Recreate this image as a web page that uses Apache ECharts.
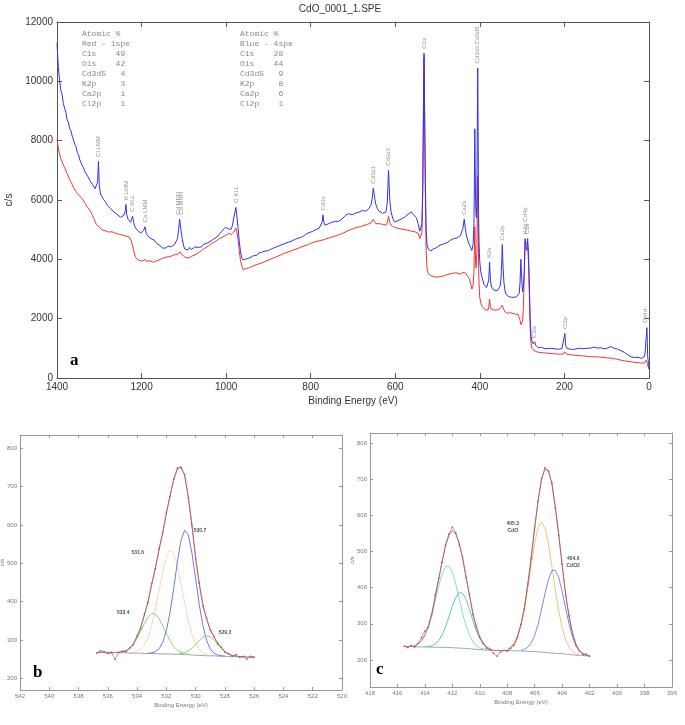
<!DOCTYPE html>
<html><head><meta charset="utf-8">
<script src="https://cdn.jsdelivr.net/npm/echarts@6/dist/echarts.min.js"></script>
<style>html,body{margin:0;padding:0;background:#fff}#c{width:685px;height:725px}</style>
</head><body><div id="c"></div>
<script>
// ---------- Panel a: survey spectra [binding energy, counts/s] ----------
const surveyBlue = [[1400,11300],[1397,10500],[1394,10050],[1391,9700],[1388,9550],[1385,9250],[1382,9100],[1379,8950],[1376,8700],[1373,8620],[1370,8400],[1367,8330],[1364,8150],[1361,8020],[1358,7880],[1355,7800],[1352,7600],[1349,7520],[1346,7350],[1343,7300],[1340,7150],[1337,7080],[1334,6950],[1331,6900],[1328,6820],[1325,6780],[1322,6650],[1319,6600],[1316,6520],[1313,6480],[1310,6380],[1307,6350],[1304,6600],[1302,7300],[1300,6500],[1297,6200],[1294,6150],[1290,6020],[1286,5950],[1282,5850],[1278,5800],[1274,5720],[1270,5680],[1266,5600],[1262,5620],[1258,5520],[1254,5500],[1250,5420],[1246,5460],[1242,5480],[1239,5600],[1237,5850],[1235,5500],[1232,5350],[1229,5300],[1226,5250],[1223,5380],[1221,5450],[1219,5250],[1216,5100],[1213,5050],[1210,4980],[1206,4950],[1202,4880],[1198,4920],[1195,4980],[1192,5100],[1189,4880],[1186,4800],[1182,4750],[1178,4700],[1174,4720],[1170,4650],[1166,4560],[1162,4580],[1158,4480],[1154,4420],[1150,4380],[1146,4330],[1142,4380],[1138,4450],[1134,4500],[1130,4420],[1126,4480],[1122,4500],[1118,4560],[1115,4700],[1112,5050],[1110,5350],[1107,5000],[1104,4700],[1101,4480],[1098,4350],[1094,4300],[1090,4320],[1086,4400],[1082,4330],[1078,4360],[1074,4420],[1070,4380],[1066,4400],[1062,4460],[1058,4420],[1054,4500],[1050,4480],[1046,4540],[1042,4560],[1038,4600],[1034,4620],[1030,4680],[1026,4700],[1022,4750],[1018,4800],[1014,4880],[1010,4950],[1006,5000],[1002,5080],[998,5100],[994,5020],[991,4980],[988,5020],[985,5150],[982,5400],[979,5600],[977,5750],[975,5500],[972,5100],[969,4600],[966,4250],[963,4050],[960,3980],[956,4000],[952,4020],[948,4060],[944,4050],[940,4100],[936,4120],[932,4150],[928,4130],[924,4200],[920,4180],[916,4240],[912,4260],[908,4280],[904,4300],[900,4290],[896,4340],[892,4360],[888,4380],[884,4400],[880,4420],[876,4450],[872,4460],[868,4490],[864,4500],[860,4540],[856,4550],[852,4580],[848,4600],[844,4620],[840,4660],[836,4680],[832,4700],[828,4720],[824,4740],[820,4760],[816,4800],[812,4840],[808,4860],[804,4900],[800,4920],[796,4940],[792,4960],[788,5000],[784,5020],[780,5050],[776,5100],[773,5250],[771,5500],[769,5250],[766,5150],[762,5150],[758,5200],[754,5220],[750,5250],[746,5240],[742,5280],[738,5300],[734,5280],[730,5320],[726,5360],[722,5420],[718,5480],[714,5500],[710,5540],[706,5560],[702,5500],[698,5540],[694,5560],[690,5600],[686,5590],[682,5620],[678,5650],[674,5600],[670,5620],[666,5660],[662,5720],[658,5820],[655,6000],[652,6400],[649,6100],[646,5850],[642,5700],[638,5620],[634,5580],[630,5550],[626,5540],[622,5600],[619,5900],[616,7000],[613,6000],[610,5600],[606,5380],[602,5260],[598,5240],[594,5300],[590,5340],[586,5360],[582,5400],[578,5420],[574,5460],[570,5520],[566,5580],[562,5600],[558,5520],[554,5480],[550,5400],[546,5200],[542,4950],[539,4900],[537,5200],[535,6500],[533,9800],[532,10950],[531,9600],[529,6800],[527,5000],[525,4500],[522,4350],[519,4320],[516,4280],[513,4320],[510,4350],[506,4380],[502,4400],[498,4430],[494,4480],[490,4500],[486,4520],[482,4550],[478,4560],[474,4600],[470,4640],[466,4650],[462,4700],[458,4680],[454,4720],[450,4750],[446,4800],[443,4850],[440,5050],[437,5350],[434,5000],[431,4750],[428,4620],[425,4500],[422,4400],[419,4300],[416,4500],[414,5200],[413,6500],[412,8400],[411,7000],[410,5900],[409,5500],[408,5400],[407,6000],[406,8500],[405,10450],[404,8000],[403,5500],[402,4600],[401,4200],[400,3900],[398,3600],[396,3450],[393,3300],[390,3150],[387,3100],[384,3050],[381,3100],[379,3300],[377,3900],[375,3300],[373,3100],[370,3000],[367,2980],[364,2950],[361,2960],[358,2950],[355,3000],[352,3100],[350,3350],[348,4000],[347,4500],[345,3700],[343,3200],[340,2900],[337,2800],[334,2760],[331,2740],[328,2760],[325,2720],[322,2700],[319,2720],[316,2700],[313,2740],[310,2760],[307,2850],[305,3200],[303,4000],[301,3300],[299,2900],[297,3100],[295,3600],[293,4700],[291,4400],[289,4300],[287,4700],[285,4200],[283,3200],[281,2000],[279,1400],[277,1250],[274,1150],[272,1180],[270,1220],[268,1100],[265,1050],[262,1020],[258,1000],[254,1030],[250,1000],[246,990],[242,1010],[238,990],[234,980],[230,1000],[226,1010],[222,980],[218,960],[214,970],[210,980],[206,990],[203,1050],[201,1350],[199,1500],[197,1100],[194,1000],[190,960],[186,970],[182,980],[178,960],[174,1000],[170,990],[166,980],[162,1000],[158,1010],[154,990],[150,1020],[146,1000],[142,990],[138,1010],[134,1000],[130,1040],[126,1060],[122,1010],[118,1000],[114,1020],[110,1000],[106,980],[102,990],[98,1010],[94,1050],[90,1060],[86,1030],[82,1000],[78,990],[74,970],[70,950],[66,920],[62,890],[58,860],[54,820],[50,780],[46,740],[42,710],[38,700],[34,690],[30,680],[26,700],[22,690],[18,660],[14,680],[11,720],[9,900],[7,1300],[5,1700],[4,1200],[3,700],[2,600],[1,450],[0,300]];

const surveyRed = [[1400,8050],[1397,7750],[1394,7550],[1391,7400],[1388,7300],[1385,7180],[1382,7100],[1379,6980],[1376,6900],[1373,6780],[1370,6720],[1367,6600],[1364,6520],[1361,6430],[1358,6380],[1355,6290],[1352,6220],[1349,6180],[1346,6120],[1343,6100],[1340,6040],[1337,5980],[1334,5900],[1331,5850],[1328,5760],[1325,5720],[1322,5650],[1319,5560],[1316,5480],[1313,5380],[1310,5280],[1307,5180],[1304,5120],[1301,5100],[1298,5040],[1294,5000],[1290,4980],[1286,4960],[1282,4950],[1278,4920],[1274,4900],[1270,4930],[1266,4900],[1262,4880],[1258,4870],[1254,4850],[1250,4830],[1246,4820],[1242,4800],[1238,4790],[1234,4780],[1230,4760],[1227,4720],[1224,4620],[1221,4450],[1218,4250],[1215,4100],[1212,4020],[1209,3990],[1206,3970],[1202,3980],[1198,3940],[1194,3960],[1191,4000],[1188,3930],[1184,3900],[1180,3950],[1176,3920],[1172,3900],[1168,3930],[1164,3950],[1160,3980],[1156,4000],[1152,4030],[1148,4050],[1144,4040],[1140,4080],[1136,4100],[1132,4090],[1128,4120],[1124,4150],[1120,4130],[1116,4160],[1112,4200],[1109,4250],[1106,4180],[1102,4120],[1098,4080],[1094,4050],[1090,4040],[1086,4060],[1082,4100],[1078,4130],[1074,4150],[1070,4200],[1066,4220],[1062,4260],[1058,4300],[1054,4340],[1050,4380],[1046,4400],[1042,4450],[1038,4480],[1034,4540],[1030,4570],[1026,4600],[1022,4640],[1018,4680],[1014,4700],[1010,4740],[1006,4780],[1002,4800],[998,4850],[994,4870],[991,4880],[988,4840],[985,4880],[982,4920],[979,4980],[977,5050],[975,4950],[972,4700],[969,4300],[966,3950],[963,3780],[960,3660],[956,3670],[952,3690],[948,3700],[944,3720],[940,3740],[936,3780],[932,3800],[928,3820],[924,3850],[920,3860],[916,3880],[912,3900],[908,3920],[904,3950],[900,3980],[896,4000],[892,4020],[888,4050],[884,4070],[880,4090],[876,4120],[872,4140],[868,4160],[864,4200],[860,4210],[856,4230],[852,4250],[848,4280],[844,4300],[840,4320],[836,4340],[832,4360],[828,4400],[824,4410],[820,4420],[816,4450],[812,4470],[808,4480],[804,4500],[800,4540],[796,4560],[792,4580],[788,4590],[784,4610],[780,4620],[776,4640],[772,4700],[769,4660],[766,4680],[762,4700],[758,4710],[754,4730],[750,4750],[746,4770],[742,4790],[738,4800],[734,4830],[730,4850],[726,4880],[722,4890],[718,4920],[714,4950],[710,4970],[706,5000],[702,5020],[698,5040],[694,5050],[690,5080],[686,5090],[682,5100],[678,5120],[674,5140],[670,5160],[666,5180],[662,5190],[658,5220],[655,5260],[652,5350],[649,5280],[646,5200],[642,5220],[638,5200],[634,5190],[630,5180],[626,5160],[622,5150],[619,5250],[616,5450],[613,5250],[610,5150],[606,5100],[602,5080],[598,5060],[594,5050],[590,5030],[586,5020],[582,5000],[578,5000],[574,4990],[570,4980],[566,4960],[562,4950],[558,4940],[554,4930],[550,4920],[546,4880],[542,4700],[539,4650],[537,4900],[535,6300],[533,9600],[532,10800],[531,9400],[529,6300],[527,4300],[525,3700],[522,3520],[519,3480],[516,3450],[513,3430],[510,3420],[506,3410],[502,3400],[498,3400],[494,3410],[490,3420],[486,3440],[482,3460],[478,3480],[474,3500],[470,3510],[466,3530],[462,3540],[458,3550],[454,3540],[450,3520],[446,3500],[443,3520],[440,3560],[437,3600],[434,3540],[431,3480],[428,3420],[425,3350],[422,3200],[419,3000],[416,3100],[414,3600],[413,4300],[412,5100],[411,4500],[410,3900],[409,3700],[408,3700],[407,4200],[406,5800],[405,6800],[404,5500],[403,3800],[402,3200],[401,2900],[400,2700],[398,2550],[396,2450],[393,2380],[390,2330],[387,2300],[384,2280],[381,2290],[379,2400],[377,2650],[375,2400],[373,2320],[370,2300],[367,2290],[364,2280],[361,2290],[358,2300],[355,2310],[352,2330],[350,2380],[348,2450],[347,2500],[345,2380],[343,2300],[340,2220],[337,2200],[334,2180],[331,2190],[328,2200],[325,2190],[322,2180],[319,2170],[316,2150],[313,2160],[310,2150],[307,2100],[305,1950],[303,1800],[301,1750],[299,1900],[297,2400],[295,3500],[293,4600],[291,4650],[289,4600],[287,4500],[285,3900],[283,2800],[281,1700],[279,1150],[277,1000],[274,950],[272,930],[270,920],[268,900],[265,880],[262,870],[258,860],[254,850],[250,850],[246,840],[242,840],[238,830],[234,830],[230,825],[226,820],[222,815],[218,810],[214,805],[210,800],[206,800],[203,810],[201,850],[199,880],[197,820],[194,800],[190,790],[186,790],[182,780],[178,770],[174,770],[170,760],[166,760],[162,750],[158,750],[154,740],[150,740],[146,730],[142,730],[138,720],[134,720],[130,715],[126,720],[122,710],[118,700],[114,700],[110,690],[106,690],[102,680],[98,675],[94,680],[90,670],[86,660],[82,650],[78,640],[74,630],[70,620],[66,600],[62,590],[58,580],[54,570],[50,560],[46,550],[42,545],[38,540],[34,530],[30,520],[26,520],[22,510],[18,500],[14,505],[11,510],[9,550],[7,600],[5,650],[4,500],[3,420],[2,380],[1,340],[0,300]];

const peakLabelE = [1302,1237,1221,1192,1113,1107,977,771,652,616,532,405,437,377,347,293,287,270,199,8];
const peakLabelV = [7350,5900,5500,5150,5400,5400,5800,5550,6450,7050,11000,10500,5400,3950,4550,4750,4750,1250,1550,1750];
const peakLabelText = ['Cl LMM','K LMM','C KLL','Ca LMM','Cd MNN','Cd MNN','O KLL','Cd3s','Cd3p1','Cd3p3','O1s','Cd3d3 Cd3d5','Ca2s','K2s','Ca2p','K2p Cd4p','C1s','Cl2s','Cl2p','Cd4d'];

const atomicRed = ['Atomic %','Red - 1spe','C1s    49','O1s    42','Cd3d5   4','K2p     3','Ca2p    1','Cl2p    1'];
const atomicBlue = ['Atomic %','Blue - 4spe','C1s    28','O1s    44','Cd3d5   9','K2p     8','Ca2p    6','Cl2p    1'];

// ---------- Panel b: O1s ----------
const bEnergy = [536.75,536.5,536.25,536,535.75,535.5,535.25,535,534.75,534.5,534.25,534,533.75,533.5,533.25,533,532.75,532.5,532.25,532,531.75,531.5,531.25,531,530.75,530.5,530.25,530,529.75,529.5,529.25,529,528.75,528.5,528.25,528,527.75,527.5,527.25,527,526.75,526.5,526.25,526];
const bRaw = [266,272,270,265,268,250,268,271,270,280,288,312,330,368,398,447,486,538,578,632,674,719,748,749,731,670,600,512,448,388,357,325,310,290,282,268,265,258,262,255,258,250,258,255];
const bFit = [268,268,267,267,267,268,268,270,273,278,291,309,334,365,402,445,489,534,581,629,677,716,745,752,728,674,597,516,445,392,354,328,308,293,280,270,263,260,258,257,256,256,255,255];
const bBg = [268,268,268,268,267,267,267,267,267,266,266,266,266,265,265,265,265,264,264,264,264,263,263,263,262,262,261,261,260,260,259,259,259,258,258,258,257,257,257,257,256,256,256,256];
const bGreen1 = [[535,270],[534.75,273],[534.5,278],[534.25,289],[534,304],[533.75,323],[533.5,343],[533.25,360],[533,369],[532.75,368],[532.5,356],[532.25,337],[532,317],[531.75,299],[531.5,283],[531.25,274],[531,268],[530.75,264],[530.5,263]];
const bOrange = [[534.5,266],[534.25,268],[534,271],[533.75,277],[533.5,287],[533.25,307],[533,339],[532.75,381],[532.5,429],[532.25,478],[532,516],[531.75,534],[531.5,525],[531.25,494],[531,448],[530.75,397],[530.5,351],[530.25,315],[530,290],[529.75,275],[529.5,267],[529.25,262],[529,260]];
const bBlue = [[533.25,265],[533,267],[532.75,270],[532.5,277],[532.25,294],[532,324],[531.75,372],[531.5,434],[531.25,503],[531,560],[530.75,586],[530.5,574],[530.25,526],[530,460],[529.75,392],[529.5,337],[529.25,299],[529,277],[528.75,266],[528.5,261],[528.25,259],[528,258]];
const bGreen2 = [[531.25,263],[531,265],[530.75,267],[530.5,272],[530.25,278],[530,288],[529.75,298],[529.5,308],[529.25,311],[529,309],[528.75,301],[528.5,290],[528.25,279],[528,270],[527.75,263],[527.5,260],[527.25,258],[527,257]];
const bLabelE = [534.95,533.95,529.7,528.0];
const bLabelV = [371,527,584,320];
const bLabelText = ['533.4','531.6','530.7','529.3'];

// ---------- Panel c: Cd3d ----------
const cEnergy = [415.5,415.25,415,414.75,414.5,414.25,414,413.75,413.5,413.25,413,412.75,412.5,412.25,412,411.75,411.5,411.25,411,410.75,410.5,410.25,410,409.75,409.5,409.25,409,408.75,408.5,408.25,408,407.75,407.5,407.25,407,406.75,406.5,406.25,406,405.75,405.5,405.25,405,404.75,404.5,404.25,404,403.75,403.5,403.25,403,402.75,402.5,402.25,402];
const cRaw = [238,234,240,236,246,262,280,290,325,380,425,470,518,548,568,552,520,484,428,380,325,292,262,245,232,228,218,210,222,226,224,232,240,262,298,340,410,482,565,640,702,732,722,690,620,545,465,380,322,270,240,225,214,216,210];
const cFit = [237,237,237,238,244,253,269,294,328,372,422,472,515,545,558,549,523,480,430,377,329,290,263,246,236,230,226,226,226,226,226,236,245,266,299,347,411,487,569,643,700,728,724,687,624,546,461,383,320,275,244,226,218,213,211];
const cBg = [237,237,237,236,236,236,236,236,235,235,235,235,234,234,234,233,233,232,232,231,230,229,229,228,227,227,226,226,226,226,226,226,225,225,225,224,224,223,223,222,222,221,220,219,218,218,217,216,215,214,213,212,212,211,211];
const cTeal1 = [[415,237],[414.75,238],[414.5,244],[414.25,253],[414,269],[413.75,292],[413.5,324],[413.25,363],[413,404],[412.75,438],[412.5,458],[412.25,460],[412,443],[411.75,409],[411.5,369],[411.25,328],[411,294],[410.75,268],[410.5,250],[410.25,239],[410,233],[409.5,228]];
const cTeal2 = [[414,236],[413.5,239],[413.25,244],[413,253],[412.75,269],[412.5,291],[412.25,319],[412,349],[411.75,373],[411.5,387],[411.25,384],[411,368],[410.75,340],[410.5,309],[410.25,280],[410,259],[409.75,244],[409.5,235],[409.25,230],[409,226]];
const cOrange = [[408,226],[407.75,236],[407.5,245],[407.25,265],[407,297],[406.75,342],[406.5,400],[406.25,463],[406,524],[405.75,566],[405.5,582],[405.25,565],[405,521],[404.75,459],[404.5,394],[404.25,336],[404,289],[403.75,256],[403.5,235],[403.25,224],[403,217],[402.75,213],[402.5,212]];
const cBlue = [[407,226],[406.75,229],[406.5,235],[406.25,247],[406,268],[405.75,299],[405.5,340],[405.25,384],[405,423],[404.75,447],[404.5,448],[404.25,428],[404,389],[403.75,343],[403.5,300],[403.25,265],[403,240],[402.75,225],[402.5,218],[402.25,213],[402,211]];
const cLabelE = [407.6,403.2];
const cLabelV = [568,472];
const cLabelText = ['405.3\nCdO','404.6\nCdO2'];

const smallTicks = [200,300,400,500,600,700,800];

// ---------- build ----------
const zip = (xs, ys) => xs.map((x, i) => [x, ys[i]]);
const FONT = 'Liberation Sans';
const plain = v => String(v);

function mkX(g, min, max, interval, top, o) {
  return {gridIndex: g, type: 'value', min, max, interval, inverse: true, position: top ? 'top' : 'bottom',
    axisLine: {show: true, onZero: false, lineStyle: {color: o.line, width: 1}},
    axisTick: {show: true, inside: true, length: o.tick, lineStyle: {color: o.line}},
    axisLabel: {show: !top, fontSize: o.fs, color: o.lab, margin: o.margin, fontFamily: FONT, formatter: plain},
    splitLine: {show: false},
    name: top ? '' : o.name, nameLocation: 'middle', nameGap: o.nameGap,
    nameTextStyle: {fontSize: o.nfs, color: o.lab, fontFamily: FONT}};
}
function mkY(g, min, max, interval, custom, right, o) {
  const a = {gridIndex: g, type: 'value', min, max, position: right ? 'right' : 'left',
    axisLine: {show: true, onZero: false, lineStyle: {color: o.line, width: 1}},
    axisTick: {show: true, inside: true, length: o.tick, lineStyle: {color: o.line}},
    axisLabel: {show: !right, fontSize: o.fs, color: o.lab, margin: o.margin, fontFamily: FONT, formatter: plain},
    splitLine: {show: false},
    name: right ? '' : 'c/s', nameLocation: 'middle', nameGap: o.yNameGap, nameRotate: 90,
    nameMoveOverlap: o.moveOverlap,
    nameTextStyle: {fontSize: o.nfs, color: o.lab, fontFamily: FONT}};
  if (interval) a.interval = interval;
  if (custom) { a.axisTick.customValues = custom; a.axisLabel.customValues = custom; }
  return a;
}
const oa = {line: '#555', lab: '#333', tick: 5, fs: 10, margin: 4, name: 'Binding Energy (eV)', nameGap: 18, nfs: 10, yNameGap: 40, moveOverlap: true};
const ob = {line: '#999', lab: '#777', tick: 3, fs: 6, margin: 3, name: 'Binding Energy (eV)', nameGap: 12, nfs: 6, yNameGap: 15, moveOverlap: false};

function line(xi, data, color, width, extra) {
  return Object.assign({type: 'line', xAxisIndex: xi, yAxisIndex: xi, data, showSymbol: false,
    lineStyle: {color, width}, itemStyle: {color}, silent: true, animation: false}, extra || {});
}
function labels(xi, es, vs, ts, style) {
  return {type: 'scatter', xAxisIndex: xi, yAxisIndex: xi, symbolSize: 0, silent: true,
    data: es.map((e, i) => ({value: [e, vs[i]], name: ts[i]})),
    label: Object.assign({show: true, formatter: '{b}', fontFamily: FONT}, style)};
}

const option = {
  animation: false,
  grid: [
    {left: 57, top: 22, width: 592, height: 356, outerBoundsMode: 'none', containLabel: false},
    {left: 20, top: 435, width: 322, height: 255, outerBoundsMode: 'none', containLabel: false},
    {left: 370, top: 433, width: 302, height: 254, outerBoundsMode: 'none', containLabel: false}
  ],
  xAxis: [
    mkX(0, 0, 1400, 200, false, oa), mkX(0, 0, 1400, 200, true, oa),
    mkX(1, 520, 542, 2, false, ob), mkX(1, 520, 542, 2, true, ob),
    mkX(2, 396, 418, 2, false, ob), mkX(2, 396, 418, 2, true, ob)
  ],
  yAxis: [
    mkY(0, 0, 12000, 2000, null, false, oa), mkY(0, 0, 12000, 2000, null, true, oa),
    mkY(1, 170, 834, null, smallTicks, false, ob), mkY(1, 170, 834, null, smallTicks, true, ob),
    mkY(2, 125, 828, null, smallTicks, false, ob), mkY(2, 125, 828, null, smallTicks, true, ob)
  ],
  series: [
    line(0, surveyRed, '#ec3434', 1),
    line(0, surveyBlue, '#3030ee', 1),
    labels(0, peakLabelE, peakLabelV, peakLabelText,
      {rotate: 90, position: 'top', distance: 3, align: 'left', verticalAlign: 'middle', fontSize: 6, color: '#777'}),
    // panel b
    line(2, zip(bEnergy, bBg), '#9aa6b8', 1),
    line(2, bGreen1, '#8fcf80', 1),
    line(2, bOrange, '#f0b070', 1, {lineStyle: {color: '#f0b070', width: 1, type: 'dotted'}}),
    line(2, bBlue, '#7474ee', 1),
    line(2, bGreen2, '#8fcf80', 1),
    line(2, zip(bEnergy, bFit), '#d97070', 1),
    line(2, zip(bEnergy, bRaw), '#8a5c5c', 0.6, {showSymbol: true, symbol: 'circle', symbolSize: 1.6}),
    labels(2, bLabelE, bLabelV, bLabelText, {position: 'inside', fontSize: 5, fontWeight: 'bold', color: '#222'}),
    // panel c
    line(4, zip(cEnergy, cBg), '#9aa6b8', 1),
    line(4, cTeal1, '#88d8c8', 1),
    line(4, cTeal2, '#5cc6c0', 1),
    line(4, cOrange, '#f2c27a', 1),
    line(4, cBlue, '#7a86ee', 1),
    line(4, zip(cEnergy, cFit), '#d97070', 1),
    line(4, zip(cEnergy, cRaw), '#8a5c5c', 0.6, {showSymbol: true, symbol: 'circle', symbolSize: 1.6}),
    labels(4, cLabelE, cLabelV, cLabelText, {position: 'inside', fontSize: 5, fontWeight: 'bold', color: '#222', lineHeight: 7})
  ],
  graphic: [
    {type: 'text', x: 340, y: 4, style: {text: 'CdO_0001_1.SPE', textAlign: 'center', font: '10px "Liberation Sans"', fill: '#333'}},
    {type: 'text', x: 82, y: 29, style: {text: atomicRed.join('\n'), font: '8px "Liberation Mono"', fill: '#888', lineHeight: 10}},
    {type: 'text', x: 240, y: 29, style: {text: atomicBlue.join('\n'), font: '8px "Liberation Mono"', fill: '#888', lineHeight: 10}},
    {type: 'text', x: 70, y: 352, style: {text: 'a', font: 'bold 17px "Liberation Serif"', fill: '#000'}},
    {type: 'text', x: 33, y: 664, style: {text: 'b', font: 'bold 17px "Liberation Serif"', fill: '#000'}},
    {type: 'text', x: 376, y: 661, style: {text: 'c', font: 'bold 17px "Liberation Serif"', fill: '#000'}}
  ]
};
const chart = echarts.init(document.getElementById('c'));
chart.setOption(option);
</script></body></html>
